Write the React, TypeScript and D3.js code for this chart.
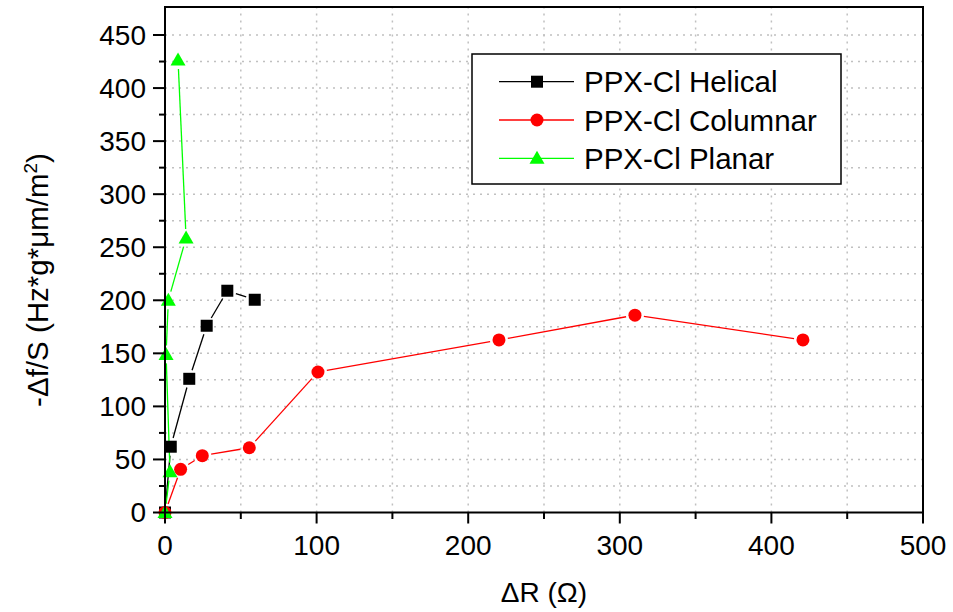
import React from "react";
import * as d3 from "d3";

const helicalX = [0, 3.8, 16, 27.5, 41.1, 59.2];
const helicalY = [0, 62, 126, 176, 209, 200.5];
const columnarX = [0, 10.3, 24.6, 55.6, 100.9, 220.3, 310, 420.8];
const columnarY = [0, 40.7, 53.6, 61, 132.4, 162.6, 186, 162.6];
const planarX = [0, 3.3, 0.7, 2.2, 13.9, 8.6];
const planarY = [0, 38.5, 149, 200, 258.7, 426.4];
const seriesNames = ["PPX-Cl Helical", "PPX-Cl Columnar", "PPX-Cl Planar"];
const seriesColors = ["#000000", "#ff0000", "#00ff00"];
const seriesShapes = ["square", "circle", "triangle"];
const xMajorTicks = [0, 100, 200, 300, 400, 500];
const yMajorTicks = [0, 50, 100, 150, 200, 250, 300, 350, 400, 450];
const xTitle = "ΔR (Ω)";

const W = 953, H = 612;
const L = 165, R = 923, T = 7, B = 512.5;
const FONT = "'Liberation Sans', Arial, sans-serif";

function Marker({ shape, x, y, color }: { shape: string; x: number; y: number; color: string }) {
  if (shape === "square") return <rect x={x - 6} y={y - 6} width={12} height={12} fill={color} />;
  if (shape === "circle") return <circle cx={x} cy={y} r={6.5} fill={color} />;
  return <path d={`M${x},${y - 7.5}L${x + 7.5},${y + 5.5}L${x - 7.5},${y + 5.5}Z`} fill={color} />;
}

export default function App() {
  const xs = d3.scaleLinear().domain([0, 500]).range([L, R]);
  const ys = d3.scaleLinear().domain([0, 476.4]).range([B, T]);
  const xMinor = d3.range(0, 501, 50);
  const yMinor = d3.range(0, 451, 25);
  const data = [
    { xs: helicalX, ys: helicalY },
    { xs: columnarX, ys: columnarY },
    { xs: planarX, ys: planarY },
  ];
  const gap = 9;
  return (
    <svg width={W} height={H} style={{ position: "absolute", left: 0, top: 0, background: "#fff" }}>
      <rect width={W} height={H} fill="#fff" />
      {/* grid */}
      {xMinor.filter((v) => v > 0 && v < 500).map((v) => (
        <line key={"gx" + v} x1={xs(v)} x2={xs(v)} y1={B} y2={T} stroke="#c0c0c0" strokeWidth={1.5} strokeDasharray="2,5" />
      ))}
      {yMinor.filter((v) => v > 0).map((v) => (
        <line key={"gy" + v} x1={L} x2={R} y1={ys(v)} y2={ys(v)} stroke="#c0c0c0" strokeWidth={1.5} strokeDasharray="2,5" />
      ))}
      {/* series */}
      {data.map((s, si) => {
        const pts = s.xs.map((xv, i) => [xs(xv), ys(s.ys[i])]);
        const segs = [];
        for (let i = 0; i < pts.length - 1; i++) {
          const [x1, y1] = pts[i];
          const [x2, y2] = pts[i + 1];
          const len = Math.hypot(x2 - x1, y2 - y1);
          if (len <= 2 * gap) continue;
          const ux = (x2 - x1) / len, uy = (y2 - y1) / len;
          segs.push(
            <line key={i} x1={x1 + ux * gap} y1={y1 + uy * gap} x2={x2 - ux * gap} y2={y2 - uy * gap} stroke={seriesColors[si]} strokeWidth={1.3} />
          );
        }
        return <g key={"s" + si}>{segs}</g>;
      })}
      {data.map((s, si) => (
        <g key={"m" + si}>
          {s.xs.map((xv, i) => (
            <Marker key={i} shape={seriesShapes[si]} x={xs(xv)} y={ys(s.ys[i])} color={seriesColors[si]} />
          ))}
        </g>
      ))}
      {/* frame */}
      <rect x={L} y={T} width={R - L} height={B - T} fill="none" stroke="#000" strokeWidth={2} />
      {/* x ticks */}
      {xMinor.map((v) => {
        const major = xMajorTicks.includes(v);
        return <line key={"xt" + v} x1={xs(v)} x2={xs(v)} y1={B} y2={B + (major ? 11 : 6.5)} stroke="#000" strokeWidth={2} />;
      })}
      {xMajorTicks.map((v) => (
        <text key={"xl" + v} x={xs(v)} y={555} textAnchor="middle" fontFamily={FONT} fontSize={28} fill="#000">{v}</text>
      ))}
      {/* y ticks */}
      {yMinor.map((v) => {
        const major = yMajorTicks.includes(v);
        return <line key={"yt" + v} x1={L - (major ? 12 : 6)} x2={L} y1={ys(v)} y2={ys(v)} stroke="#000" strokeWidth={2} />;
      })}
      {yMajorTicks.map((v) => (
        <text key={"yl" + v} x={146} y={ys(v)} dy="0.35em" textAnchor="end" fontFamily={FONT} fontSize={28} fill="#000">{v}</text>
      ))}
      {/* axis titles */}
      <text x={544} y={602} textAnchor="middle" fontFamily={FONT} fontSize={28} fill="#000">{xTitle}</text>
      <text transform="translate(48,280) rotate(-90)" textAnchor="middle" fontFamily={FONT} fontSize={29.5} fill="#000">
        -Δf/S (Hz*g*μm/m<tspan dy="-11" fontSize={19}>2</tspan><tspan dy="11">)</tspan>
      </text>
      {/* legend */}
      <rect x={472} y={54} width={369} height={130} fill="#fff" stroke="#000" strokeWidth={1.5} />
      {seriesNames.map((name, i) => {
        const cy = 81.7 + i * 38.3;
        return (
          <g key={"lg" + i}>
            <line x1={499} x2={574} y1={cy} y2={cy} stroke={seriesColors[i]} strokeWidth={1.3} />
            <Marker shape={seriesShapes[i]} x={537} y={cy} color={seriesColors[i]} />
            <text x={584} y={cy} dy="0.36em" fontFamily={FONT} fontSize={29.5} fill="#000">{name}</text>
          </g>
        );
      })}
    </svg>
  );
}
